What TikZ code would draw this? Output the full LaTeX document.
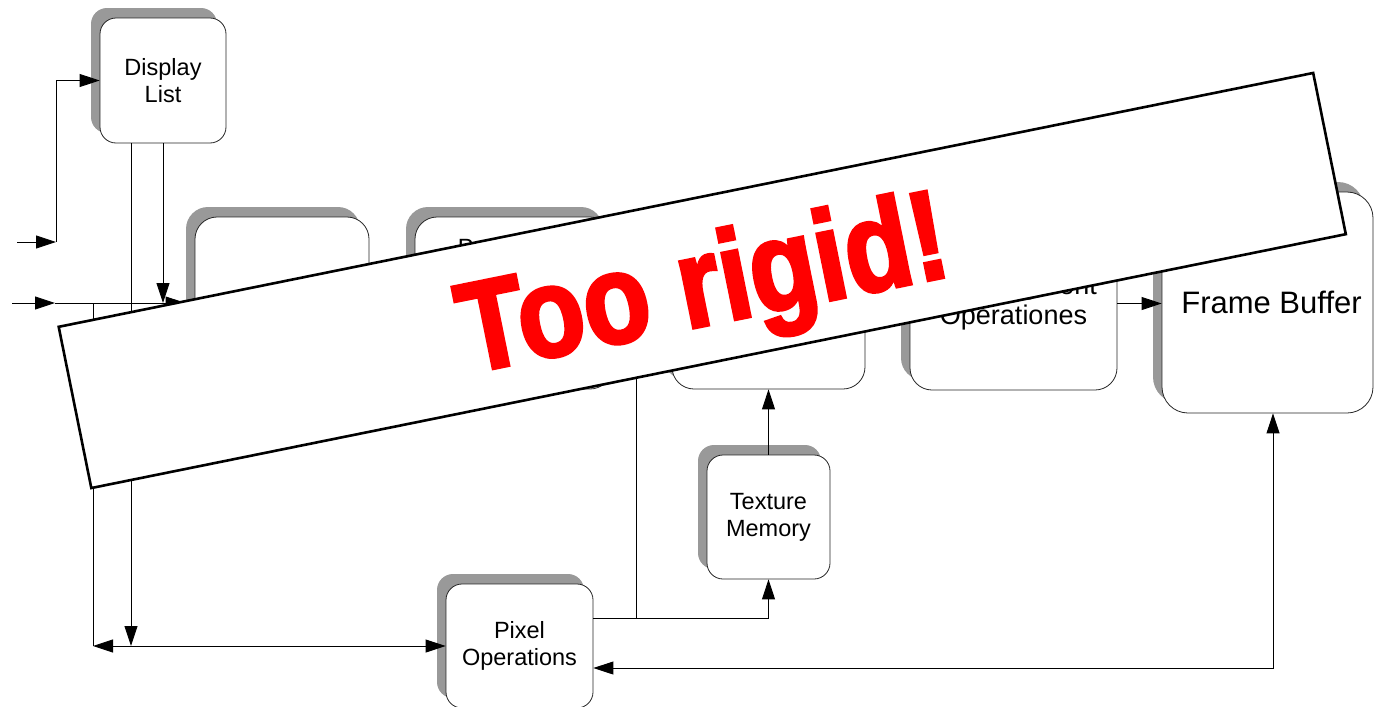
\documentclass[tikz,border=0pt]{standalone}
\usepackage{fontspec}
\setmainfont{Liberation Sans}
\newfontfamily\heavyfont[FakeBold=3]{Liberation Sans Bold}
\usetikzlibrary{arrows.meta,shadows,calc}
\definecolor{shadowgray}{HTML}{999999}
\definecolor{banred}{HTML}{FF0000}
\begin{document}
\begin{tikzpicture}[x=1pt,y=-1pt,
  box/.style={draw=black!85, line width=0.8pt, fill=white, rounded corners=16pt,
    inner sep=0pt, align=center, font=\fontsize{23.5}{27}\selectfont,
    drop shadow={shadow xshift=-9pt, shadow yshift=10pt, fill=shadowgray, opacity=1}},
  bigbox/.style={box, rounded corners=22pt},
  conn/.style={draw=black, line width=0.9pt},
  arr/.style={conn, -{Triangle[length=20pt,width=13pt]}},
  dblarr/.style={conn, {Triangle[length=20pt,width=13pt]}-{Triangle[length=20pt,width=13pt]}},
  banner/.style={draw=black, line width=2.6pt, fill=white, inner sep=0pt},
  slogan/.style={text=banred, font=\heavyfont\fontsize{127}{132}\selectfont, inner sep=0pt}
]
\useasboundingbox (0,0) rectangle (1374,707);

% boxes
\node[box, minimum width=126pt, minimum height=125pt] (dl) at (163,80.5) {Display\\List};
\node[bigbox, minimum width=174pt, minimum height=172pt] (ev) at (282,303) {};
\node[bigbox, minimum width=197pt, minimum height=172pt] (pv) at (513.5,303) {};
\node[anchor=base, inner sep=0pt, font=\fontsize{23.5}{27}\selectfont] (pvt) at (513.5,255) {Per-Vertex};
\node[bigbox, minimum width=193pt, minimum height=172pt] (ras) at (768.5,303) {};
\node[bigbox, minimum width=207pt, minimum height=173pt, font=\fontsize{27}{30}\selectfont] (fr) at (1013.5,303.5) {Per-Fragment\\Operationes};
\node[bigbox, rounded corners=26pt, minimum width=211pt, minimum height=221pt, font=\fontsize{31}{35}\selectfont] (fb) at (1267.5,302.5) {\hspace*{8pt}Frame Buffer};
\node[box, minimum width=123pt, minimum height=124pt] (tex) at (768.5,517) {Texture\\Memory};
\node[box, minimum width=147pt, minimum height=124pt] (pix) at (519.5,646) {Pixel\\Operations};

% connector points
\coordinate (in1) at (17,242);
\coordinate (k1) at (56,242);
\coordinate (in2) at (12,303);
\coordinate (k2) at (55,303);
\coordinate (b93) at (93,303);
\coordinate (j1) at (93,646);
\coordinate (c131) at (131,646);
\coordinate (b636) at (636,303);
\coordinate (j636) at (636,618);
\coordinate (j2) at (1273,668);

% connectors
\draw[arr] (in1) -- (k1);
\draw[arr] (k1) |- (dl.west);
\draw[arr] (in2) -- (k2);
\draw[arr] (k2) -- ($(ev.west)+(-9,0)$);
\draw[arr] (dl.south) -- (dl.south |- k2);
\draw[arr] (dl.south -| c131) -- (c131);
\draw[conn] (b93) -- (j1);
\draw[dblarr] (j1) -- (pix.west |- j1);
\draw[arr] (ev.east) -- ($(pv.west)+(-10,0)$);
\draw[arr] (pv.east) -- ($(ras.west)+(-10,0)$);
\draw[arr] (ras.east) -- ($(fr.west)+(-10,0)$);
\draw[arr] (fr.east) -- (fr.east -| fb.west);
\draw[conn] (b636) -- (j636);
\draw[arr] (pix.east |- j636) -| (tex.south);
\draw[arr] (tex.north) -- (ras.south);
\draw[dblarr] (pix.east |- j2) -- (j2) -- (fb.south -| j2);

% overlay banner
\node[banner, rotate=11.44, minimum width=1280pt, minimum height=164.5pt] (ban) at (702.25,280.5) {};
\node[slogan, rotate=11.44, anchor=base] (txt) at (711,324.2) {\scalebox{0.86}[1]{Too rigid!}};
\end{tikzpicture}
\end{document}
